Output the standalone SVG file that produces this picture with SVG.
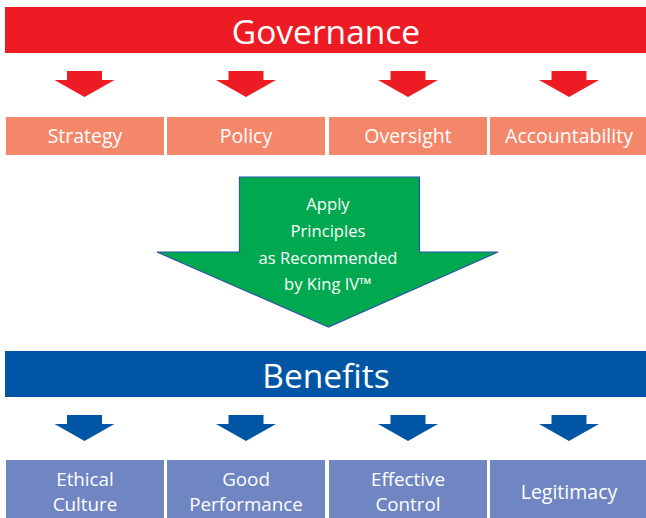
<svg xmlns="http://www.w3.org/2000/svg" width="646" height="518" viewBox="0 0 646 518">
<style>
text{font-family:"Open Sans","Noto Sans","Liberation Sans",sans-serif;fill:#fff;text-anchor:middle}
.t{font-size:19.5px}
.b{font-size:18.8px}
.h{font-size:33.5px}
.g{font-size:16.6px}
.red{fill:#ED1C24}
.sal{fill:#F4876A}
.blu{fill:#0055A5}
.pur{fill:#6F86C3}
</style>
<defs>
<path id="arr" d="M-17.5,0 H17.5 V9 H30 L0,26 L-30,9 H-17.5 Z"/>
</defs>
<g id="governance"><rect class="red" x="5" y="7" width="641" height="46"/><text class="h" x="326" y="44">Governance</text></g>
<g id="connectors">
<use href="#arr" class="red" x="84.5" y="71"/>
<use href="#arr" class="red" x="246" y="71"/>
<use href="#arr" class="red" x="408" y="71"/>
<use href="#arr" class="red" x="569" y="71"/>
<use href="#arr" class="blu" x="84.5" y="415"/>
<use href="#arr" class="blu" x="246" y="415"/>
<use href="#arr" class="blu" x="408" y="415"/>
<use href="#arr" class="blu" x="569" y="415"/>
</g>
<g id="strategy"><rect class="sal" x="6" y="117" width="158" height="38"/><text class="t" x="85" y="143">Strategy</text></g>
<g id="policy"><rect class="sal" x="167" y="117" width="158" height="38"/><text class="t" x="246" y="143">Policy</text></g>
<g id="oversight"><rect class="sal" x="329" y="117" width="158" height="38"/><text class="t" x="408" y="143">Oversight</text></g>
<g id="accountability"><rect class="sal" x="490" y="117" width="156" height="38"/><text class="t" x="569" y="143">Accountability</text></g>
<g id="apply">
<path d="M239.5,177 H419.5 V252 H498 L328.5,327 L157,252 H239.5 Z" fill="#00A94F" stroke="#2B55A6" stroke-width="1.2"/>
<text class="g" x="328" y="210">Apply</text>
<text class="g" x="328" y="237">Principles</text>
<text class="g" x="328" y="264">as Recommended</text>
<text class="g" x="328" y="290">by King IV™</text>
</g>
<g id="benefits"><rect class="blu" x="5" y="351" width="641" height="46"/><text class="h" x="326" y="388">Benefits</text></g>
<g id="ethical"><rect class="pur" x="6" y="460" width="158" height="58"/><text class="b" x="85" y="485.5">Ethical</text><text class="b" x="85" y="511">Culture</text></g>
<g id="good"><rect class="pur" x="167" y="460" width="158" height="58"/><text class="b" x="246" y="485.5">Good</text><text class="b" x="246" y="511">Performance</text></g>
<g id="effective"><rect class="pur" x="329" y="460" width="158" height="58"/><text class="b" x="408" y="485.5">Effective</text><text class="b" x="408" y="511">Control</text></g>
<g id="legitimacy"><rect class="pur" x="490" y="460" width="156" height="58"/><text class="t" x="569" y="499">Legitimacy</text></g>
</svg>
